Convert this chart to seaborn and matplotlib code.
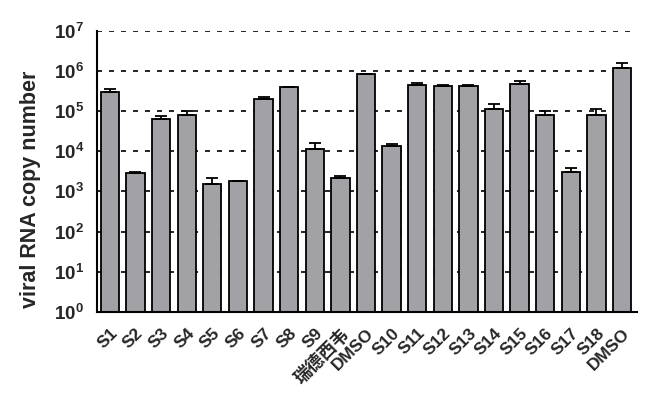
import numpy as np
import pandas as pd
import matplotlib
matplotlib.use("Agg")
import matplotlib.pyplot as plt
import seaborn as sns

labels = ["S1", "S2", "S3", "S4", "S5", "S6", "S7", "S8", "S9", "瑞德西韦", "DMSO",
          "S10", "S11", "S12", "S13", "S14", "S15", "S16", "S17", "S18", "DMSO"]
means = [3.0e5, 2.9e3, 6.3e4, 8.0e4, 1.55e3, 1.85e3, 2.0e5, 4.0e5, 1.16e4, 2.2e3, 8.7e5,
         1.38e4, 4.6e5, 4.2e5, 4.2e5, 1.14e5, 4.7e5, 8.0e4, 3.1e3, 8.0e4, 1.22e6]
err_top = [3.6e5, 3.1e3, 7.4e4, 1.0e5, 2.2e3, 1.85e3, 2.3e5, 4.0e5, 1.65e4, 2.45e3, 8.7e5,
           1.48e4, 5.0e5, 4.6e5, 4.6e5, 1.5e5, 5.6e5, 1.0e5, 3.8e3, 1.15e5, 1.6e6]
yticks = [1e0, 1e1, 1e2, 1e3, 1e4, 1e5, 1e6, 1e7]
ytick_labels = [r"$\mathbf{10^{0}}$", r"$\mathbf{10^{1}}$", r"$\mathbf{10^{2}}$", r"$\mathbf{10^{3}}$",
                r"$\mathbf{10^{4}}$", r"$\mathbf{10^{5}}$", r"$\mathbf{10^{6}}$", r"$\mathbf{10^{7}}$"]

sns.set_style("white")
plt.rcParams["font.family"] = ["Liberation Sans", "Noto Sans CJK SC"]
plt.rcParams["mathtext.fontset"] = "custom"
plt.rcParams["mathtext.bf"] = "Liberation Sans:bold"
plt.rcParams["mathtext.rm"] = "Liberation Sans"

df = pd.DataFrame({"key": [f"{i}_{l}" for i, l in enumerate(labels)], "value": means})

fig = plt.figure(figsize=(6.5, 3.98), dpi=100)
ax = fig.add_axes([0.1497, 0.2168, 0.8298, 0.7053])
ax.set_yscale("log")
for t in yticks:
    ax.axhline(t, color="black", lw=1.2, ls=(0, (3, 4.2)), zorder=0)

sns.barplot(data=df, x="key", y="value", color="#a2a1a6", saturation=1,
            edgecolor="black", linewidth=1.3, width=0.715, ax=ax, zorder=2)

pos = np.arange(len(labels))
upper = np.array(err_top) - np.array(means)
ax.errorbar(pos, means, yerr=[np.zeros(len(means)), upper], fmt="none",
            ecolor="black", elinewidth=1.3, capsize=4, capthick=1.3, zorder=3)

ax.set_ylim(1, 1e7)
ax.set_xlim(-0.49, len(labels) - 1 + 0.57)
ax.set_yticks(yticks)
ax.set_yticklabels(ytick_labels, fontsize=13.5)
ax.yaxis.set_minor_locator(matplotlib.ticker.NullLocator())
ax.set_xticks(pos)
ax.set_xticklabels(labels, rotation=45, ha="right", rotation_mode="anchor",
                   fontsize=12.5, fontweight="bold")
ax.tick_params(axis="both", direction="out", length=6, width=1.3, color="black")
ax.tick_params(axis="x", pad=4)
ax.set_xlabel("")
ax.set_ylabel("viral RNA copy number", fontsize=15.5, fontweight="bold")
ax.yaxis.set_label_coords(-0.104, 0.437)
sns.despine(ax=ax)
for s in ["left", "bottom"]:
    ax.spines[s].set_linewidth(1.5)
    ax.spines[s].set_color("black")

fig.savefig("out.png", dpi=100)
